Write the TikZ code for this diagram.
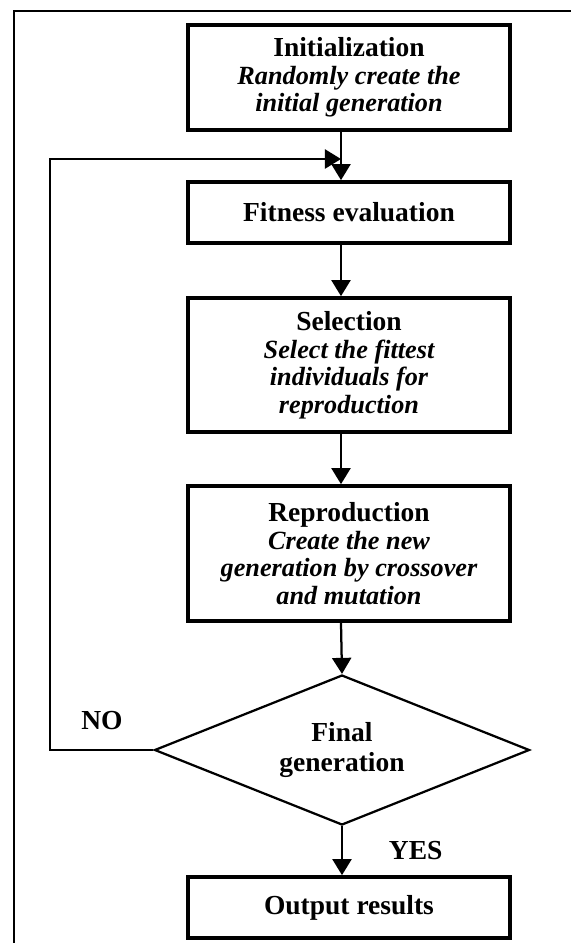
\documentclass[tikz,border=0pt]{standalone}
\usepackage{fontspec}
\setmainfont{Liberation Serif}
\usetikzlibrary{arrows.meta, shapes.geometric}

\newcommand{\subline}[1]{{\fontsize{10.5}{11}\selectfont\itshape #1}}

\begin{document}
\begin{tikzpicture}[x=0.4pt, y=-0.4pt,
    >={Triangle[length=6.4pt, width=7.6pt]},
    box/.style={draw, line width=1.5pt, minimum width=128.8pt, inner sep=0pt,
        align=center, font=\fontsize{11}{11}\selectfont\bfseries},
    decision/.style={draw, diamond, line width=0.9pt, aspect=2.5, inner sep=0pt,
        minimum width=150pt, minimum height=60pt, align=center,
        font=\fontsize{11}{12}\selectfont\bfseries},
    tag/.style={font=\fontsize{11}{11}\selectfont\bfseries},
    flow/.style={->, line width=0.9pt}]
    \useasboundingbox (0,0) rectangle (571,943);
    \draw[line width=0.6pt] (571,11) -| (14,943);
    % steps
    \node[box, minimum height=42pt] (init) at (349,77.5)
        {Initialization\\ \subline{Randomly create the}\\ \subline{initial generation}};
    \node[box, minimum height=24.4pt] (fit) at (349,212.5) {Fitness evaluation};
    \node[box, minimum height=53.6pt] (sel) at (349,365)
        {Selection\\ \subline{Select the fittest}\\ \subline{individuals for}\\ \subline{reproduction}};
    \node[box, minimum height=54pt] (rep) at (349,553.5)
        {Reproduction\\ \subline{Create the new}\\ \subline{generation by crossover}\\ \subline{and mutation}};
    \node[decision] (dec) at (342,750) {Final\\ generation};
    \node[box, minimum height=24.4pt] (out) at (349,907.5) {Output results};
    \node[tag] (no) at (102,721) {NO};
    \coordinate (loop) at (341,159);
    % arrows
    \draw[flow] (init.south -| loop) -- (fit.north -| loop);
    \draw[flow] (fit.south -| loop) -- (sel.north -| loop);
    \draw[flow] (sel.south -| loop) -- (rep.north -| loop);
    \draw[flow] (rep.south -| loop) -- (dec.north);
    \draw[flow] (dec.south) -- (out.north -| dec.south)
        node[tag, midway, right=15pt] (yes) {YES};
    \draw[flow] (dec.west) -| (50,159) -- (loop);
\end{tikzpicture}
\end{document}
